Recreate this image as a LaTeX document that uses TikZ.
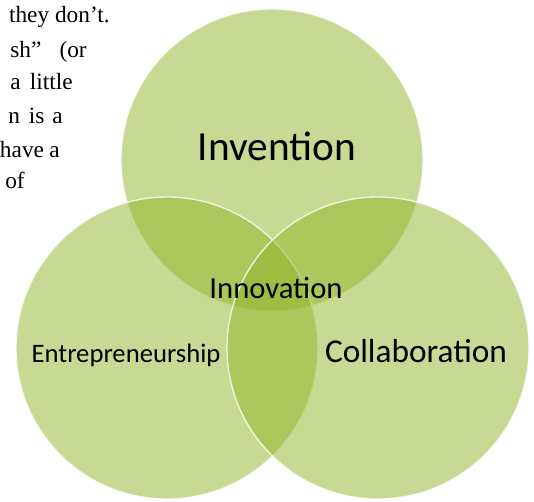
\documentclass[tikz,border=0pt]{standalone}
\usepackage{fontspec}
\setmainfont{Liberation Serif}
\newfontfamily\calibri{Carlito}
\definecolor{vert}{RGB}{146,180,40}

\begin{document}
\begin{tikzpicture}[x=0.75pt,y=-0.75pt]

\tikzset{cercle/.style={circle,minimum size=226.5pt,inner sep=0pt,fill=vert,fill opacity=0.5,draw=white,draw opacity=0.8,line width=1pt}, %disque vert transparent
	etiquette/.style={anchor=base,inner sep=0pt,text=black},
	texte/.style={anchor=base east,inner sep=0pt,font=\fontsize{17.5}{21}\selectfont}}

\useasboundingbox (0,0) rectangle (534,501);

%--------------------bout du paragraphe---------------------
\node[texte] (l1) at (110,22) {they don’t.};
\node[texte] (l2) at (87,57) {sh”\hspace{13.5pt}(or};
\node[texte] (l3) at (73,89) {a\hspace{7pt}little};
\node[texte] (l4) at (63,123) {n\hspace{6.5pt}is\hspace{6pt}a};
\node[texte] (l5) at (60,157) {have\hspace{4pt}a};
\node[texte] (l6) at (25,188) {of};

%--------------------les trois cercles---------------------
\node[cercle] (inv) at (272,160) {};
\node[cercle] (ent) at (167,348) {};
\node[cercle] (col) at (378,348) {};

%etiquettes
\node[etiquette,font={\calibri\fontsize{31}{37}\selectfont}] (tinv) at (277,160) {Invention};
\node[etiquette,font={\calibri\fontsize{23}{28}\selectfont}] (tinno) at (276,298) {Innovation};
\node[etiquette,font={\calibri\fontsize{20}{24}\selectfont}] (tent) at (126,362) {Entrepreneurship};
\node[etiquette,font={\calibri\fontsize{25}{30}\selectfont}] (tcol) at (416,362) {Collaboration};

\end{tikzpicture}
\end{document}
